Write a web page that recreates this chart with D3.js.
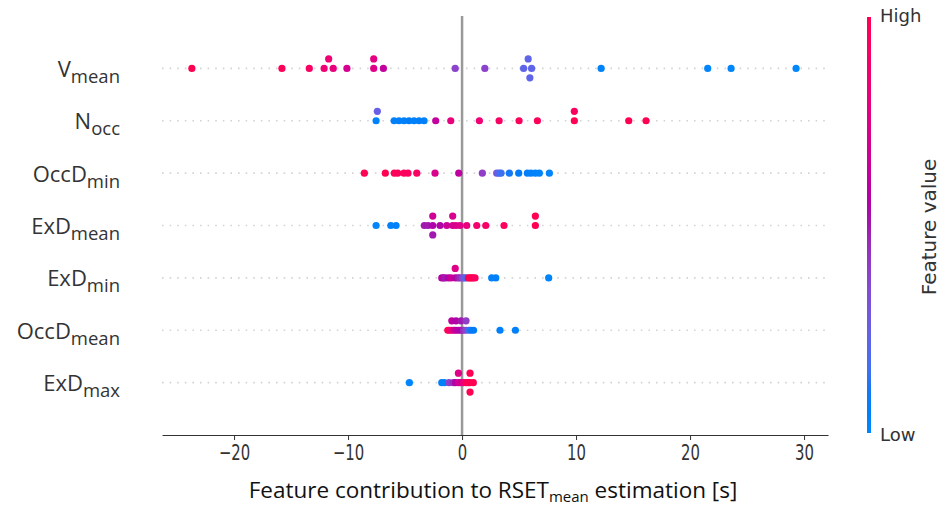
<!DOCTYPE html>
<html>
<head>
<meta charset="utf-8">
<script src="https://cdn.jsdelivr.net/npm/d3@7"></script>
<style>
  body { margin: 0; background: #fff; }
</style>
</head>
<body>
<svg id="chart"></svg>
<script>
// feature names (main part + subscript), top to bottom
var featNames = ['V', 'N', 'OccD', 'ExD', 'ExD', 'OccD', 'ExD'];
var featSubs = ['mean', 'occ', 'min', 'mean', 'min', 'mean', 'max'];

// SHAP values per feature [s], and the feature value (0 = low, 1 = high)
var shapVmean = [-23.7, -15.8, -13.4, -12.1, -11.3, -11.7, -10.1, -7.75, -7.75, -6.9,
                 -0.6, 2.0, 5.4, 6.1, 5.8, 5.95, 12.2, 21.55, 23.6, 29.3];
var featVmean = [1.0, 0.97, 0.93, 0.85, 0.8, 0.85, 0.7, 0.75, 0.78, 0.62,
                 0.38, 0.38, 0.22, 0.22, 0.22, 0.22, 0.04, 0.02, 0.02, 0.0];

var shapNocc = [-7.54, -7.43, -5.96, -5.53, -5.09, -4.65, -4.21, -3.77, -3.33, -2.31,
                -0.99, 1.52, 3.25, 5.0, 6.61, 9.85, 9.85, 14.62, 16.14];
var featNocc = [0.04, 0.25, 0.05, 0.06, 0.05, 0.07, 0.05, 0.06, 0.05, 0.62,
                0.8, 0.85, 0.92, 0.97, 0.97, 1.0, 0.95, 1.0, 1.0];

var shapOccDmin = [-8.57, -6.73, -5.94, -5.64, -5.09, -4.74, -3.97, -2.37, -0.29, 1.78,
                   3.04, 3.25, 3.42, 4.15, 4.97, 5.73, 6.05, 6.43, 6.78, 7.66];
var featOccDmin = [1.0, 1.0, 0.97, 0.97, 0.96, 0.95, 0.93, 0.72, 0.6, 0.4,
                   0.28, 0.2, 0.15, 0.1, 0.08, 0.06, 0.05, 0.04, 0.03, 0.02];

var shapExDmean = [-7.54, -6.25, -5.79, -3.31, -2.98, -2.57, -2.57, -2.57, -1.93, -1.34,
                   -0.82, -0.82, -0.53, -0.18, 0.41, 1.29, 2.08, 3.68, 6.43, 6.43];
var featExDmean = [0.02, 0.05, 0.05, 0.5, 0.5, 0.55, 0.68, 0.5, 0.55, 0.65,
                   0.7, 0.72, 0.72, 0.75, 0.8, 0.88, 0.9, 0.95, 1.0, 1.0];

var shapExDmin = [-1.78, -1.62, -1.49, -1.2, -0.96, -0.6, -0.6, -0.35, -0.18, 0.04,
                  0.2, 0.35, 0.55, 0.7, 0.85, 0.96, 1.14, 2.6, 2.96, 7.6];
var featExDmin = [0.55, 0.6, 0.5, 0.55, 0.65, 0.6, 0.75, 0.5, 0.45, 0.35,
                  0.3, 0.15, 1.0, 0.98, 1.0, 1.0, 0.95, 0.05, 0.05, 0.03];

var shapOccDmean = [-1.25, -1.1, -0.9, -0.9, -0.7, -0.53, -0.53, -0.31, -0.09, -0.09,
                    0.13, 0.35, 0.35, 0.61, 0.79, 1.01, 3.33, 4.68];
var featOccDmean = [1.0, 0.95, 0.8, 0.6, 0.7, 0.6, 0.55, 0.55, 0.55, 0.5,
                    0.45, 0.35, 0.4, 0.15, 0.1, 0.08, 0.05, 0.05];

var shapExDmax = [-4.62, -1.78, -1.55, -1.14, -0.76, -0.57, -0.32, -0.32, -0.13, 0.11,
                  0.35, 0.55, 0.7, 0.7, 0.7, 0.99];
var featExDmax = [0.02, 0.05, 0.05, 0.4, 0.45, 0.55, 0.7, 0.75, 0.65, 0.8,
                  0.95, 1.0, 1.0, 1.0, 1.0, 1.0];

var shapRows = [shapVmean, shapNocc, shapOccDmin, shapExDmean, shapExDmin, shapOccDmean, shapExDmax];
var featRows = [featVmean, featNocc, featOccDmin, featExDmean, featExDmin, featOccDmean, featExDmax];

var xTicks = [-20, -10, 0, 10, 20, 30];

var W = 943, H = 506;

var svg = d3.select('#chart')
  .attr('width', W)
  .attr('height', H)
  .style('font-family', 'DejaVu Sans');

var x = d3.scaleLinear().domain([-26.32, 32.1]).range([162, 828]);
var y = d3.scaleLinear().domain([-1, 7]).range([16, 435]);
var rowPx = y(1) - y(0);

// shap red-blue colormap (lch blend, lightness dips in the middle)
function shapColor(t) {
  var L = t < 0.5 ? 54 - 28 * t : 40 + 28 * (t - 0.5);
  var C = 70 + 20 * t;
  var Hh = 266.93 + 113.39 * t;
  return d3.hcl(Hh, C, L).formatHex();
}

// beeswarm offsets like shap: quantize into 100 bins, stack inside a bin
function swarm(vals) {
  var n = vals.length, lo = d3.min(vals), hi = d3.max(vals);
  var q = vals.map(function (v) { return Math.round(100 * (v - lo) / (hi - lo + 1e-8)); });
  var idx = d3.range(n).sort(function (a, b) { return q[a] - q[b] || a - b; });
  var ys = new Array(n).fill(0), layer = 0, last = -1;
  idx.forEach(function (i) {
    if (q[i] !== last) layer = 0;
    ys[i] = Math.ceil(layer / 2) * ((layer % 2) * 2 - 1);
    layer++;
    last = q[i];
  });
  var m = d3.max(ys) + 1;
  return ys.map(function (v) { return v * 0.9 * 0.4 / m; });
}

// dotted row guides
svg.append('g').selectAll('line')
  .data(featNames)
  .enter()
  .append('line')
  .attr('x1', x.range()[0]).attr('x2', x.range()[1])
  .attr('y1', function (d, i) { return y(i); })
  .attr('y2', function (d, i) { return y(i); })
  .attr('stroke', '#d4d4d4')
  .attr('stroke-width', 1.6)
  .attr('stroke-dasharray', '1.6,6');

// zero line
svg.append('line')
  .attr('x1', x(0)).attr('x2', x(0))
  .attr('y1', y(-1)).attr('y2', y(7))
  .attr('stroke', '#999')
  .attr('stroke-width', 2.5);

// dots
shapRows.forEach(function (vals, r) {
  var off = swarm(vals);
  svg.append('g').selectAll('circle')
    .data(vals)
    .enter()
    .append('circle')
    .attr('cx', function (d) { return x(d); })
    .attr('cy', function (d, i) { return y(r) - off[i] * rowPx; })
    .attr('r', 3.6)
    .attr('fill', function (d, i) { return shapColor(featRows[r][i]); });
});

// x axis
var xAxis = svg.append('g')
  .attr('transform', 'translate(0,' + y(7) + ')')
  .call(d3.axisBottom(x).tickValues(xTicks).tickSize(5).tickSizeOuter(0));
xAxis.select('.domain').attr('stroke', '#333').attr('stroke-width', 1.2);
xAxis.selectAll('.tick line').attr('stroke', '#333');
// tick labels in the picture are squeezed sideways
xAxis.selectAll('.tick text')
  .attr('font-family', 'DejaVu Sans Condensed')
  .attr('font-size', 22)
  .attr('fill', '#333')
  .attr('y', 25)
  .attr('dy', 0)
  .attr('transform', 'scale(0.75,1)');

// x label
var xl = svg.append('text')
  .attr('x', 493)
  .attr('y', 498)
  .attr('text-anchor', 'middle')
  .attr('font-family', 'Open Sans')
  .attr('font-size', 22.5)
  .attr('fill', '#111');
xl.append('tspan').text('Feature contribution to RSET');
xl.append('tspan').attr('font-size', 15).attr('dy', 4).text('mean');
xl.append('tspan').attr('dy', -4).text(' estimation [s]');

// feature labels
featNames.forEach(function (nm, i) {
  var t = svg.append('text')
    .attr('x', 120)
    .attr('y', y(i) + 8.5)
    .attr('text-anchor', 'end')
    .attr('font-family', 'Open Sans')
    .attr('font-size', 22)
    .attr('fill', '#333');
  t.append('tspan').text(nm);
  t.append('tspan').attr('font-size', 18.5).attr('dy', 6).text(featSubs[i]);
});

// colour bar
var grad = svg.append('defs').append('linearGradient')
  .attr('id', 'cbar')
  .attr('x1', 0).attr('y1', 1).attr('x2', 0).attr('y2', 0);
grad.selectAll('stop')
  .data(d3.range(0, 1.0001, 0.05))
  .enter()
  .append('stop')
  .attr('offset', function (d) { return d; })
  .attr('stop-color', function (d) { return shapColor(d); });

svg.append('rect')
  .attr('x', 867).attr('y', 17)
  .attr('width', 4).attr('height', 416)
  .attr('fill', 'url(#cbar)');

svg.append('text')
  .attr('x', 880).attr('y', 22)
  .attr('font-size', 18).attr('fill', '#333')
  .text('High');
svg.append('text')
  .attr('x', 880).attr('y', 441)
  .attr('font-size', 18).attr('fill', '#333')
  .text('Low');
svg.append('text')
  .attr('transform', 'translate(936,227) rotate(-90)')
  .attr('text-anchor', 'middle')
  .attr('font-size', 20).attr('fill', '#333')
  .text('Feature value');
</script>
</body>
</html>
